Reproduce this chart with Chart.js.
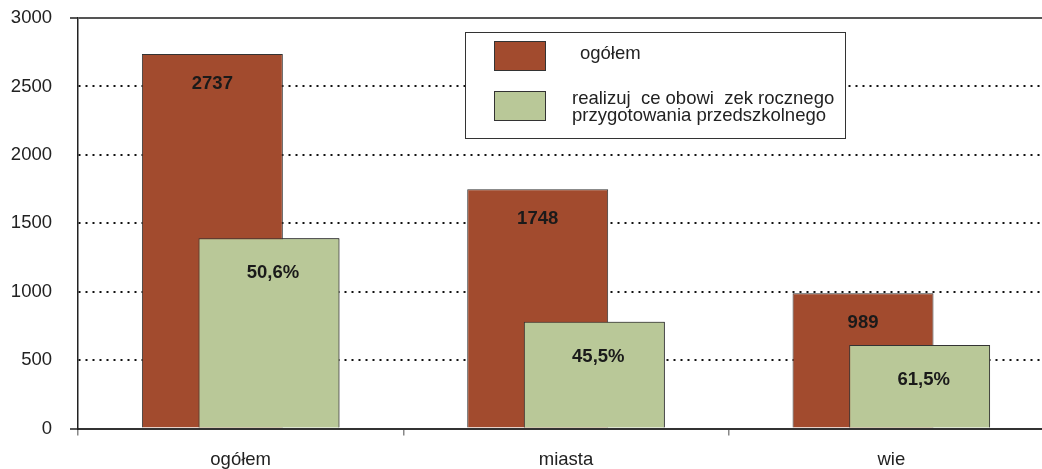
<html>

<head>
  <title>Chart</title>
  <style>
    html, body {
      margin: 0;
      padding: 0;
      overflow: hidden;
      background: #fff;
    }

    #wrap {
      position: relative;
      width: 1054px;
      height: 469px;
    }
  </style>
</head>

<body>
  <div id="wrap"><canvas id="myChart"></canvas></div>
  <script src="https://cdn.jsdelivr.net/npm/chart.js"></script>
  <script>
    // values
    var categories = ['ogółem', 'miasta', 'wie'];
    var totalValues = [2737, 1748, 989];
    var preschoolValues = [1390, 780, 610];
    var totalLabels = ['2737', '1748', '989'];
    var preschoolLabels = ['50,6%', '45,5%', '61,5%'];
    var seriesNames = ['ogółem', ['realizuj  ce obowi  zek rocznego', 'przygotowania przedszkolnego']];
    var yMin = 0, yMax = 3000, yStep = 500;

    var FONT = '"Liberation Sans", Arial, sans-serif';
    var FS = 18.5;
    var BROWN = '#A24B2E';
    var GREEN = '#B9C898';

    // green bars sit on top of the brown ones, then the numbers
    var overlapPlugin = {
      id: 'overlap',
      afterDatasetsDraw: function (chart) {
        var ctx = chart.ctx;
        var green = chart.getDatasetMeta(1);
        green.data.forEach(function (bar) { bar.draw(ctx); });

        ctx.save();
        ctx.font = 'bold ' + FS + 'px ' + FONT;
        ctx.fillStyle = '#1a1a1a';
        ctx.textAlign = 'center';
        ctx.textBaseline = 'middle';
        chart.getDatasetMeta(0).data.forEach(function (bar, i) {
          ctx.fillText(totalLabels[i], bar.x, bar.y + 30);
        });
        green.data.forEach(function (bar, i) {
          ctx.fillText(preschoolLabels[i], bar.x + 4, bar.y + 35);
        });
        ctx.restore();
      }
    };

    // boxed legend inside the plot
    var legendBox = {
      id: 'legendBox',
      afterDraw: function (chart) {
        var ctx = chart.ctx;
        ctx.save();
        ctx.fillStyle = '#fff';
        ctx.fillRect(465, 32, 380, 106);
        ctx.strokeStyle = '#333';
        ctx.lineWidth = 1;
        ctx.strokeRect(465.5, 32.5, 380, 106);

        var swatchY = [41, 91];
        chart.data.datasets.forEach(function (ds, i) {
          ctx.fillStyle = ds.backgroundColor;
          ctx.fillRect(494, swatchY[i], 52, 30);
          ctx.strokeStyle = '#333';
          ctx.strokeRect(494.5, swatchY[i] + 0.5, 51, 29);
        });

        ctx.fillStyle = '#222';
        ctx.font = FS + 'px ' + FONT;
        ctx.textAlign = 'left';
        ctx.textBaseline = 'alphabetic';
        ctx.fillText(seriesNames[0], 580, 59);
        ctx.fillText(seriesNames[1][0], 572, 104);
        ctx.fillText(seriesNames[1][1], 572, 121);
        ctx.restore();
      }
    };

    var data = {
      labels: categories,
      datasets: [
        {
          label: 'ogółem',
          data: totalValues,
          backgroundColor: BROWN,
          borderColor: '#333',
          borderWidth: 1
        },
        {
          label: seriesNames[1].join(' '),
          data: preschoolValues,
          backgroundColor: GREEN,
          borderColor: '#333',
          borderWidth: 1
        }
      ]
    };

    var config = {
      type: 'bar',
      data: data,
      options: {
        responsive: true,
        maintainAspectRatio: false,
        animation: false,
        categoryPercentage: 0.348,
        barPercentage: 2.49,
        layout: { padding: { top: 0, left: 0, right: 0, bottom: 0 } },
        plugins: {
          legend: { display: false },
          tooltip: { enabled: false }
        },
        scales: {
          x: {
            afterFit: function (scale) { scale.height = 40.5; },
            grid: {
              offset: true,
              drawOnChartArea: false,
              tickLength: 7,
              tickColor: '#888',
              lineWidth: 1.5
            },
            border: { color: '#333', width: 2 },
            ticks: { color: '#222', padding: 13, font: { size: FS, family: FONT } }
          },
          y: {
            min: yMin,
            max: yMax,
            afterFit: function (scale) { scale.width = 78; },
            ticks: {
              stepSize: yStep,
              color: '#222',
              padding: 18,
              // lineHeight 0 keeps the label from pushing the plot down
              font: { size: FS, family: FONT, lineHeight: 0 },
              callback: function (v) { return String(v); }
            },
            grid: {
              tickLength: 8,
              lineWidth: 2,
              color: function (c) {
                if (!c.tick) return '#111';
                return (c.tick.value === yMax || c.tick.value === yMin) ? '#555' : '#111';
              },
              tickColor: function (c) {
                if (!c.tick) return 'transparent';
                return (c.tick.value === yMax || c.tick.value === yMin) ? '#555' : 'transparent';
              }
            },
            border: {
              color: '#222',
              width: 1.5,
              dash: function (c) {
                if (!c.tick) return [];
                return (c.tick.value === yMax || c.tick.value === yMin) ? [] : [2, 5];
              }
            }
          }
        }
      },
      plugins: [overlapPlugin, legendBox]
    };

    var myChart = new Chart(document.getElementById('myChart'), config);
  </script>
</body>

</html>
